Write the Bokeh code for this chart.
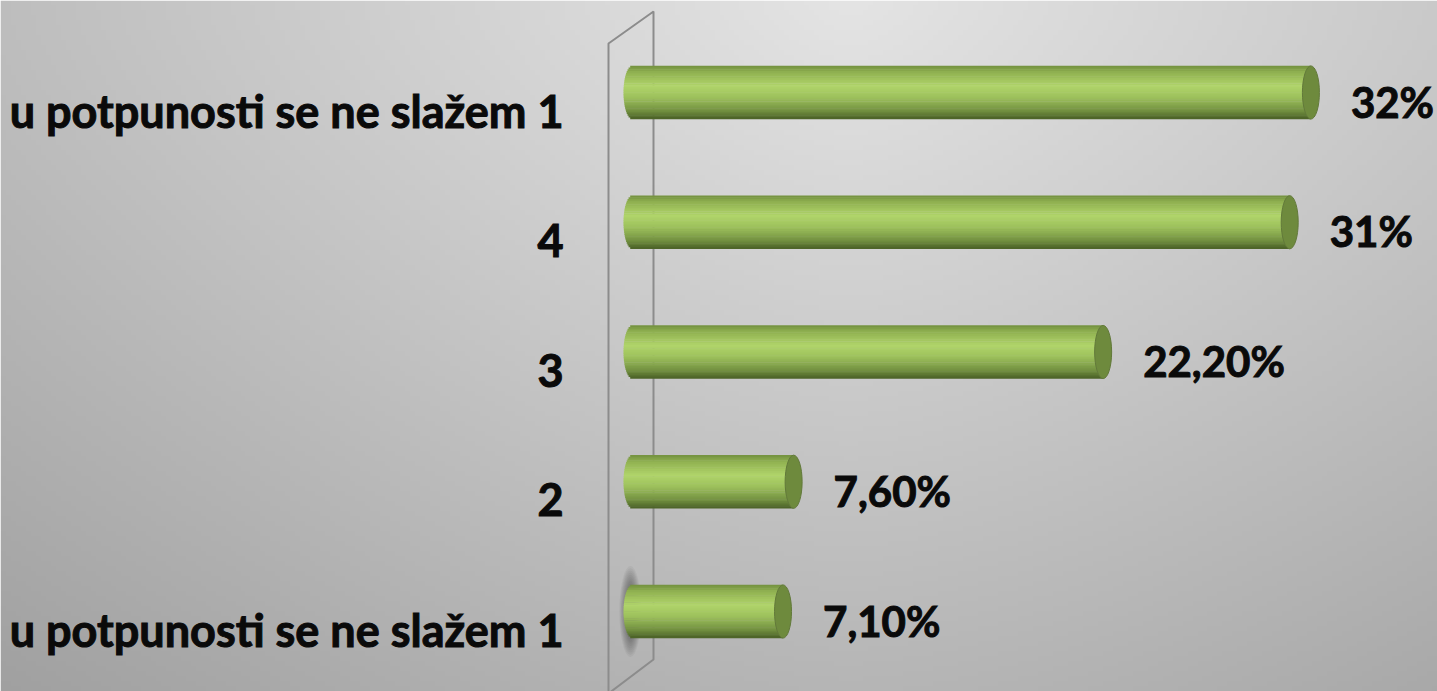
import numpy as np
from bokeh.plotting import figure
from bokeh.models import ColumnDataSource, Range1d
from bokeh.core.properties import value
from bokeh.embed import file_html
from bokeh.resources import INLINE

# ---- data (bottom to top) ----
categories = ["u potpunosti se ne slažem 1", "2", "3", "4", "u potpunosti se ne slažem 1"]
values = [7.1, 7.6, 22.2, 31.0, 32.0]
value_labels = ["7,10%", "7,60%", "22,20%", "31%", "32%"]

W, H = 1437, 691
SX, SY = W / 1437.0, H / 691.0          # reference px -> figure px
PX_PER_UNIT = 21.2 * SX
X0_PX = 632 * SX
X_START = -X0_PX / PX_PER_UNIT
X_END = X_START + W / PX_PER_UNIT
ROW_PX = 129.75 * SY
Y_START = -(H - 611 * SY) / ROW_PX
Y_END = Y_START + H / ROW_PX


def ref_to_data(rx, ry):
    fx, fy = rx * SX, ry * SY
    return X_START + fx / PX_PER_UNIT, Y_START + (H - fy) / ROW_PX


p = figure(width=W, height=H, output_backend="svg", toolbar_location=None,
           x_range=Range1d(X_START, X_END), y_range=Range1d(Y_START, Y_END),
           min_border=0, border_fill_color="#cccccc")
p.axis.visible = False
p.grid.visible = False
p.outline_line_color = None

# ---- background radial-ish gradient ----
nx, ny = 288, 138
gx = np.linspace(0, 1437, nx)
gy = np.linspace(691, 0, ny)  # row 0 at bottom
GX, GY = np.meshgrid(gx, gy)
dx = np.abs(GX - 850)
dy = np.abs(GY - 0) * 1.5
d = (dx ** 1.5 + dy ** 1.5) ** (1 / 1.5)
v = np.clip(228 - 0.045 * d, 0, 255).astype(np.uint32)
img = (255 << 24) | (v << 16) | (v << 8) | v
p.image_rgba(image=[img.astype(np.uint32)], x=X_START, y=Y_START,
             dw=X_END - X_START, dh=Y_END - Y_START)

# ---- 3D wall ----
wall = [ref_to_data(608, 43), ref_to_data(653, 11), ref_to_data(653, 659), ref_to_data(608, 693)]
p.patch([q[0] for q in wall], [q[1] for q in wall], fill_color=None,
        line_color="#8c8c8c", line_width=2)

# soft shadow at bottom bar's base
for k in range(10):
    f = k / 9.0
    p.ellipse(x=[-0.1], y=[0], width=22 - 14 * f, height=0.70 - 0.30 * f,
              width_units="screen", fill_color="#303030", fill_alpha=0.06,
              line_color=None)

# ---- cylinder bars ----
BAR_H = 0.41
RX = 9 * SX / PX_PER_UNIT
N = 30
stops = [(0.0, (0x72, 0x8f, 0x3e)), (0.12, (0x8f, 0xb0, 0x50)), (0.38, (0xb0, 0xd4, 0x6a)),
         (0.6, (0x9d, 0xc0, 0x5c)), (0.85, (0x72, 0x90, 0x40)), (1.0, (0x4a, 0x60, 0x26))]


def grad(t):
    for (t0, c0), (t1, c1) in zip(stops[:-1], stops[1:]):
        if t <= t1:
            f = (t - t0) / (t1 - t0)
            return "#%02x%02x%02x" % tuple(int(round(a + (b - a) * f)) for a, b in zip(c0, c1))
    return "#%02x%02x%02x" % stops[-1][1]


ys, lefts, rights, hs, cols = [], [], [], [], []
for i, val in enumerate(values):
    for k in range(N):
        t = (k + 0.5) / N
        u = 2 * t - 1
        ys.append(i + (0.5 - t) * BAR_H)
        lefts.append(-RX * np.sqrt(max(0.0, 1 - u * u)))
        rights.append(val)
        hs.append(BAR_H / N * 1.25)
        cols.append(grad(t))
p.hbar(y="y", left="l", right="r", height="h", fill_color="c", line_color=None,
       source=ColumnDataSource(dict(y=ys, l=lefts, r=rights, h=hs, c=cols)))

idx = list(range(len(values)))
p.ellipse(x=values, y=idx, width=17 * SX, height=BAR_H, width_units="screen",
          fill_color="#6e8a3d", line_color="#62793a", line_width=1)

# ---- texts ----
p.text(x=[0] * len(categories), y=idx, text=categories, text_font=value("Lato"),
       text_font_style="bold", text_font_size="45px", text_color="#0a0a0a",
       text_outline_color="#0a0a0a",
       text_align="right", text_baseline="middle", x_offset=-69, y_offset=18)
p.text(x=values, y=idx, text=value_labels, text_font=value("Lato"),
       text_font_style="bold", text_font_size="42px", text_color="#0a0a0a",
       text_outline_color="#0a0a0a",
       text_align="left", text_baseline="middle", x_offset=40, y_offset=9)

open("out.html", "w").write(file_html(p, INLINE))
